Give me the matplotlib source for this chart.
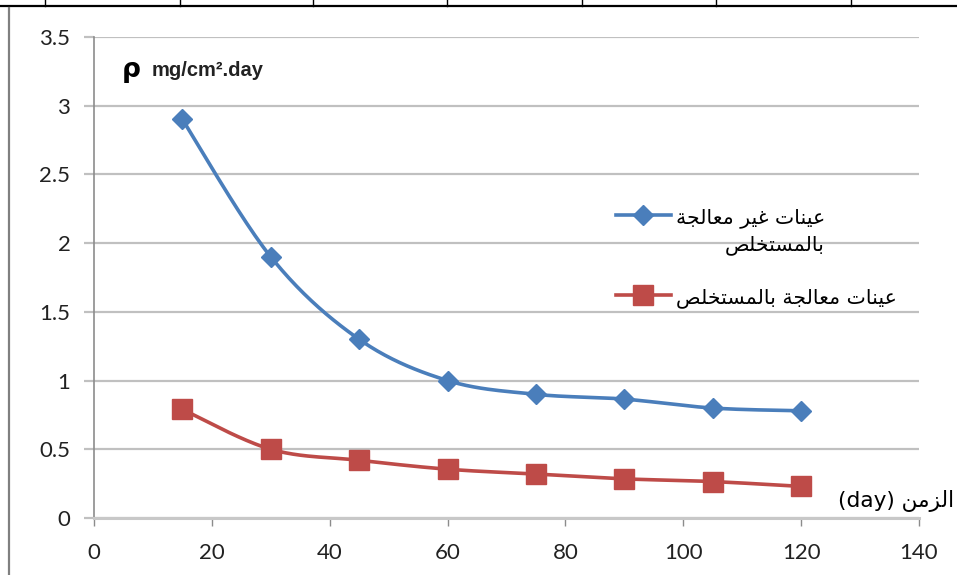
import numpy as np
import matplotlib
matplotlib.use("Agg")
import matplotlib.pyplot as plt
from matplotlib.lines import Line2D

# data
days = [15, 30, 45, 60, 75, 90, 105, 120]
untreated = [2.90, 1.90, 1.30, 1.00, 0.90, 0.865, 0.80, 0.78]
treated = [0.79, 0.50, 0.42, 0.355, 0.32, 0.285, 0.265, 0.23]
legend_labels = ["عينات غير معالجة\nبالمستخلص", "عينات معالجة بالمستخلص"]
x_ticks = [0, 20, 40, 60, 80, 100, 120, 140]
y_ticks = [0, 0.5, 1, 1.5, 2, 2.5, 3, 3.5]
y_tick_labels = ["0", "0.5", "1", "1.5", "2", "2.5", "3", "3.5"]
x_title_ar = "الزمن"
x_title_unit = "(day)"
y_title_sym = "ρ"
y_title_unit = "mg/cm².day"

# --- minimal Arabic shaping (matplotlib has no RTL / joining support) ---
# (isolated, final, initial, medial)
FORMS = {
    "ا": ("\uFE8D", "\uFE8E", None, None),
    "ب": ("\uFE8F", "\uFE90", "\uFE91", "\uFE92"),
    "ة": ("\uFE93", "\uFE94", None, None),
    "ت": ("\uFE95", "\uFE96", "\uFE97", "\uFE98"),
    "ج": ("\uFE9D", "\uFE9E", "\uFE9F", "\uFEA0"),
    "خ": ("\uFEA5", "\uFEA6", "\uFEA7", "\uFEA8"),
    "ر": ("\uFEAD", "\uFEAE", None, None),
    "ز": ("\uFEAF", "\uFEB0", None, None),
    "س": ("\uFEB1", "\uFEB2", "\uFEB3", "\uFEB4"),
    "ص": ("\uFEB9", "\uFEBA", "\uFEBB", "\uFEBC"),
    "ع": ("\uFEC9", "\uFECA", "\uFECB", "\uFECC"),
    "غ": ("\uFECD", "\uFECE", "\uFECF", "\uFED0"),
    "ل": ("\uFEDD", "\uFEDE", "\uFEDF", "\uFEE0"),
    "م": ("\uFEE1", "\uFEE2", "\uFEE3", "\uFEE4"),
    "ن": ("\uFEE5", "\uFEE6", "\uFEE7", "\uFEE8"),
    "ي": ("\uFEF1", "\uFEF2", "\uFEF3", "\uFEF4"),
}


def shape_line(s):
    out = []
    for i, ch in enumerate(s):
        if ch not in FORMS:
            out.append(ch)
            continue
        prev = s[i - 1] if i > 0 else ""
        nxt = s[i + 1] if i + 1 < len(s) else ""
        jp = prev in FORMS and FORMS[prev][2] is not None
        jn = FORMS[ch][2] is not None and nxt in FORMS
        iso, fin, ini, med = FORMS[ch]
        if jp and jn:
            out.append(med)
        elif jp:
            out.append(fin)
        elif jn:
            out.append(ini)
        else:
            out.append(iso)
    return "".join(out)[::-1]


def rtl(s):
    return "\n".join(shape_line(line) for line in s.split("\n"))


def smooth(x, y, n=25):
    # Excel-like smoothed line (cubic bezier through the points)
    pts = np.column_stack([x, y]).astype(float)
    out = [pts[0]]
    t = np.linspace(0, 1, n)[1:, None]
    for i in range(len(pts) - 1):
        p0 = pts[i - 1] if i > 0 else pts[i]
        p1, p2 = pts[i], pts[i + 1]
        p3 = pts[i + 2] if i + 2 < len(pts) else pts[i + 1]
        c1 = p1 + (p2 - p0) / 6
        c2 = p2 - (p3 - p1) / 6
        seg = (1 - t) ** 3 * p1 + 3 * (1 - t) ** 2 * t * c1 + 3 * (1 - t) * t ** 2 * c2 + t ** 3 * p2
        out.extend(seg)
    out = np.array(out)
    return out[:, 0], out[:, 1]


blue = "#4A7EBB"
red = "#BE4B48"
lw = 2.6

fig = plt.figure(figsize=(9.57, 5.75), dpi=100)
ax = fig.add_axes([94 / 957, 1 - 518 / 575, 825 / 957, 481 / 575])

sx, sy = smooth(days, untreated)
ax.plot(sx, sy, color=blue, lw=lw, solid_capstyle="round", zorder=3)
ax.plot(days, untreated, linestyle="none", marker="D", ms=10, color=blue, zorder=4)
sx, sy = smooth(days, treated)
ax.plot(sx, sy, color=red, lw=lw, solid_capstyle="round", zorder=3)
ax.plot(days, treated, linestyle="none", marker="s", ms=14, color=red, zorder=4)

ax.set_xlim(0, 140)
ax.set_ylim(0, 3.5)
ax.set_xticks(x_ticks)
ax.set_yticks(y_ticks)
ax.set_yticklabels(y_tick_labels)
ax.yaxis.grid(True, color="#C0C0C0", lw=1.6)
ax.set_axisbelow(True)
for side in ["top", "right"]:
    ax.spines[side].set_visible(False)
ax.spines["left"].set_color("#8C8C8C")
ax.spines["left"].set_linewidth(1.2)
ax.spines["bottom"].set_color("#C8C8C8")
ax.spines["bottom"].set_linewidth(2.2)
ax.tick_params(axis="y", length=7, width=1.6, color="#C0C0C0", pad=10,
               labelsize=16, labelcolor="#222222")
ax.tick_params(axis="x", length=6, width=1.0, color="#8C8C8C", pad=12,
               labelsize=16, labelcolor="#222222")
for lab in ax.get_xticklabels() + ax.get_yticklabels():
    lab.set_fontfamily("Lato")

# y title inside the plot
ax.text(0.034, 0.931, y_title_sym, transform=ax.transAxes, fontsize=19,
        fontweight="bold", family="DejaVu Sans", va="center", ha="left")
ax.text(0.070, 0.931, y_title_unit, transform=ax.transAxes, fontsize=14.5,
        fontweight="bold", family="Liberation Sans", va="center", ha="left",
        color="#222222")

# x title at lower right
ax.text(0.902, 0.035, x_title_unit + " " + rtl(x_title_ar), transform=ax.transAxes,
        fontsize=15.6, family="DejaVu Sans", va="center", ha="left", clip_on=False)

# legend
handles = [
    Line2D([], [], color=blue, lw=lw, marker="D", ms=10),
    Line2D([], [], color=red, lw=lw, marker="s", ms=14),
]
leg = ax.legend(handles, [rtl(s) for s in legend_labels], loc="upper left",
                bbox_to_anchor=(0.61, 0.682), frameon=False,
                prop={"family": "DejaVu Sans", "size": 14.7},
                handlelength=2.7, handletextpad=0.25, labelspacing=1.65)
for t in leg.get_texts():
    t.set_multialignment("right")
    t.set_linespacing(1.45)
# keep the key level with the first line of a wrapped label
for col in leg._legend_handle_box.get_children():
    for row in col.get_children():
        row.align = "top"

# remnants of the surrounding table / chart frame
fig.add_artist(Line2D([0, 1], [1 - 6 / 575] * 2, color="black", lw=1.6, transform=fig.transFigure))
for px in [45, 180, 313, 447, 582, 716, 851]:
    fig.add_artist(Line2D([px / 957] * 2, [1 - 6 / 575, 1], color="black", lw=1.0,
                          transform=fig.transFigure))
fig.add_artist(Line2D([9 / 957] * 2, [0, 1 - 8 / 575], color="#808080", lw=1.6,
                      transform=fig.transFigure))

fig.savefig("out.png", dpi=100)
